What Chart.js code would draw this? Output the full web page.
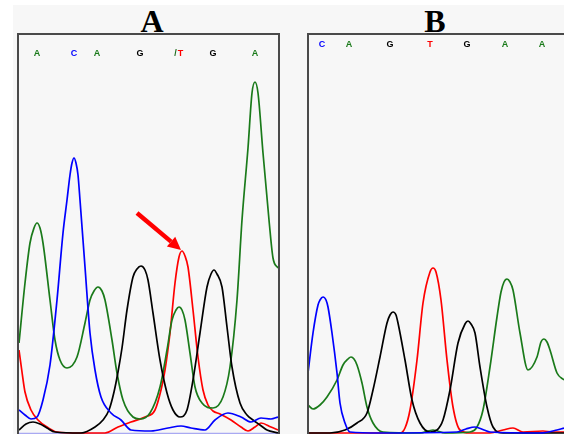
<!DOCTYPE html>
<html><head><meta charset="utf-8">
<script src="https://cdn.jsdelivr.net/npm/chart.js@4.4.0/dist/chart.umd.min.js"></script>
<style>
html,body{margin:0;padding:0;background:#fff;width:564px;height:434px;overflow:hidden;position:relative;}
#bg{position:absolute;left:13px;top:5px;right:0;bottom:0;background:#f7f7f7;}
.frame{position:absolute;top:33px;height:420px;border:2px solid #4a4a4a;border-bottom:none;box-sizing:border-box;}
.title{position:absolute;top:5px;font:bold 32px "Liberation Serif","Times New Roman",serif;line-height:32px;width:60px;text-align:center;color:#000;}
canvas{position:absolute;}
</style></head><body>
<div id="bg"></div>
<div class="frame" style="left:17px;width:263px"></div>
<div class="frame" style="left:307px;width:270px"></div>
<div class="title" style="left:122px">A</div>
<div class="title" style="left:405px">B</div>
<canvas id="ca" width="259" height="399" style="left:19px;top:35px"></canvas>
<canvas id="cb" width="255" height="399" style="left:309px;top:35px"></canvas>
<script>
// ---- Panel A: base calls (scan position) ----
const basesA = ['A','C','A','G','/T','G','A'];
const basePosA = [37, 74, 97, 140, 178, 213, 255];
// ---- Panel B: base calls ----
const basesB = ['C','A','G','T','G','A','A'];
const basePosB = [322, 349, 390, 430, 467, 505, 542];

// ---- Panel A traces: [scan, signal] ----
const aTraceA = [[19,90],[25,150],[30,190],[34,205],[37,210],[40,205],[43,190],[50,133],[55,93],[60,73],[67,65],[77,76],[85,110],[90,133],[94,142],[98,146],[102,142],[105,133],[112,93],[117,60],[123,33],[133,16],[140,14],[150,20],[160,46],[167,83],[172,113],[176,123],[179,126],[182,123],[185,113],[190,80],[195,46],[202,30],[213,25],[223,36],[230,66],[237,133],[242,213],[248,285],[252,340],[255,351],[258,340],[263,280],[269,213],[273,175],[278,165]];
const aTraceC = [[19,23],[25,18],[31,14],[37,16],[43,33],[50,68],[57,133],[63,200],[67,233],[70,258],[72,270],[74,275],[76,270],[78,258],[80,233],[85,166],[90,100],[95,63],[101,36],[111,20],[121,13],[131,3],[151,2],[168,5],[181,7],[191,5],[205,3],[215,13],[228,20],[241,16],[251,11],[261,15],[271,14],[278,16]];
const aTraceG = [[19,3],[26,9],[33,11],[40,9],[47,5],[55,1],[81,0],[95,6],[103,13],[109,23],[114,41],[118,61],[122,85],[127,123],[133,156],[137,164],[141,167],[145,163],[148,153],[153,120],[160,73],[167,40],[173,23],[180,16],[187,23],[193,53],[200,100],[207,146],[211,159],[214,163],[217,159],[222,146],[227,106],[232,66],[240,30],[247,18],[253,13],[260,8],[267,3],[278,0]];
const aTraceT = [[19,83],[22,61],[25,41],[31,23],[38,13],[47,6],[57,1],[80,0],[105,0],[118,6],[131,11],[145,16],[155,23],[161,43],[165,63],[170,100],[175,150],[179,176],[182,182],[185,177],[188,166],[193,123],[198,76],[203,43],[208,28],[213,22],[220,19],[231,13],[241,6],[248,2],[255,6],[261,10],[271,6],[278,3]];

// ---- Panel B traces ----
const bTraceA = [[308,28],[313,24],[320,28],[327,36],[337,53],[343,68],[348,74],[351,76],[354,74],[357,68],[362,50],[367,26],[373,10],[383,1],[420,0],[433,3],[445,0],[470,1],[477,6],[483,23],[490,66],[497,116],[501,141],[504,151],[507,154],[510,151],[513,143],[520,100],[528,63],[537,76],[541,91],[544,94],[547,91],[550,83],[557,60],[564,53]];
const bTraceC = [[308,60],[313,100],[318,128],[320,133],[323,136],[326,133],[328,126],[332,100],[337,60],[340,30],[345,10],[350,1],[380,0],[457,1],[466,4],[475,6],[484,3],[490,1],[540,0],[557,3],[564,5]];
const bTraceG = [[308,0],[330,0],[345,3],[357,10],[367,20],[373,43],[380,76],[387,110],[390,118],[393,121],[396,118],[398,110],[405,73],[412,33],[420,10],[430,1],[437,3],[443,13],[450,43],[458,90],[465,109],[468,112],[471,109],[475,100],[480,66],[487,26],[493,6],[503,0],[564,0]];
const bTraceT = [[308,0],[400,0],[405,5],[410,23],[417,73],[423,130],[430,161],[433,165],[436,161],[441,133],[447,73],[453,26],[460,3],[470,0],[490,0],[503,3],[513,5],[523,1],[543,2],[553,1],[564,1]];

const COL = {A:'#1a7a1a', C:'#0000ff', G:'#000000', T:'#ff0000', '/':'#1a6a1a'};

function ds(pairs, base){
  return {data: pairs.map(p=>({x:p[0], y:p[1]})), borderColor: COL[base], borderWidth:1.7,
          pointRadius:0, fill:false, cubicInterpolationMode:'monotone'};
}

function basePlugin(bases, pos, yPix){
  return {id:'bases', afterDraw(chart){
    const ctx = chart.ctx, xs = chart.scales.x;
    ctx.save();
    ctx.font = 'bold 9px "Liberation Sans", Arial, sans-serif';
    ctx.textAlign = 'center'; ctx.textBaseline = 'middle';
    bases.forEach((b,i)=>{
      const x = xs.getPixelForValue(pos[i]);
      if (b.length === 2){
        ctx.fillStyle = COL[b[0]]; ctx.fillText(b[0], x-2.5, yPix);
        ctx.fillStyle = COL[b[1]]; ctx.fillText(b[1], x+2.5, yPix);
      } else {
        ctx.fillStyle = COL[b]; ctx.fillText(b, x, yPix);
      }
    });
    ctx.restore();
  }};
}

const arrowPlugin = {id:'arrow', afterDatasetsDraw(chart){
  const ctx = chart.ctx, xs = chart.scales.x, ys = chart.scales.y;
  const peak = aTraceT.reduce((m,p)=>p[1]>m[1]?p:m);
  const tx = xs.getPixelForValue(peak[0]) - 1, ty = ys.getPixelForValue(peak[1]) - 1;
  const fx = tx - 44, fy = ty - 37;
  const ang = Math.atan2(ty-fy, tx-fx);
  const hl = 13, hw = 6.5;
  const bx = tx - hl*Math.cos(ang), by = ty - hl*Math.sin(ang);
  ctx.save();
  ctx.strokeStyle = '#ff0000'; ctx.fillStyle = '#ff0000';
  ctx.lineWidth = 4.5; ctx.lineCap = 'butt';
  ctx.beginPath(); ctx.moveTo(fx,fy); ctx.lineTo(bx,by); ctx.stroke();
  ctx.beginPath();
  ctx.moveTo(tx,ty);
  ctx.lineTo(bx + hw*Math.sin(ang), by - hw*Math.cos(ang));
  ctx.lineTo(bx - hw*Math.sin(ang), by + hw*Math.cos(ang));
  ctx.closePath(); ctx.fill();
  ctx.restore();
}};

const baselinePlugin = {id:'baseline', beforeDatasetsDraw(chart){
  const ctx = chart.ctx, a = chart.chartArea, ys = chart.scales.y;
  const y = ys.getPixelForValue(0) + 0.5;
  ctx.save(); ctx.strokeStyle = '#a9a9f2'; ctx.lineWidth = 1.5;
  ctx.beginPath(); ctx.moveTo(a.left, y); ctx.lineTo(a.right, y); ctx.stroke(); ctx.restore();
}};

function opts(xmin, xmax){
  return {responsive:false, animation:false, maintainAspectRatio:false,
    layout:{padding:0},
    plugins:{legend:{display:false}, tooltip:{enabled:false}},
    scales:{x:{type:'linear', min:xmin, max:xmax, display:false},
            y:{min:-1, max:398, display:false}}};
}

new Chart(document.getElementById('ca'), {
  type:'line',
  data:{datasets:[ds(aTraceC,'C'), ds(aTraceG,'G'), ds(aTraceA,'A'), ds(aTraceT,'T')]},
  options: opts(19, 278),
  plugins:[baselinePlugin, basePlugin(basesA, basePosA, 19), arrowPlugin]
});
new Chart(document.getElementById('cb'), {
  type:'line',
  data:{datasets:[ds(bTraceC,'C'), ds(bTraceG,'G'), ds(bTraceA,'A'), ds(bTraceT,'T')]},
  options: opts(309, 564),
  plugins:[basePlugin(basesB, basePosB, 10)]
});
</script>
</body></html>
